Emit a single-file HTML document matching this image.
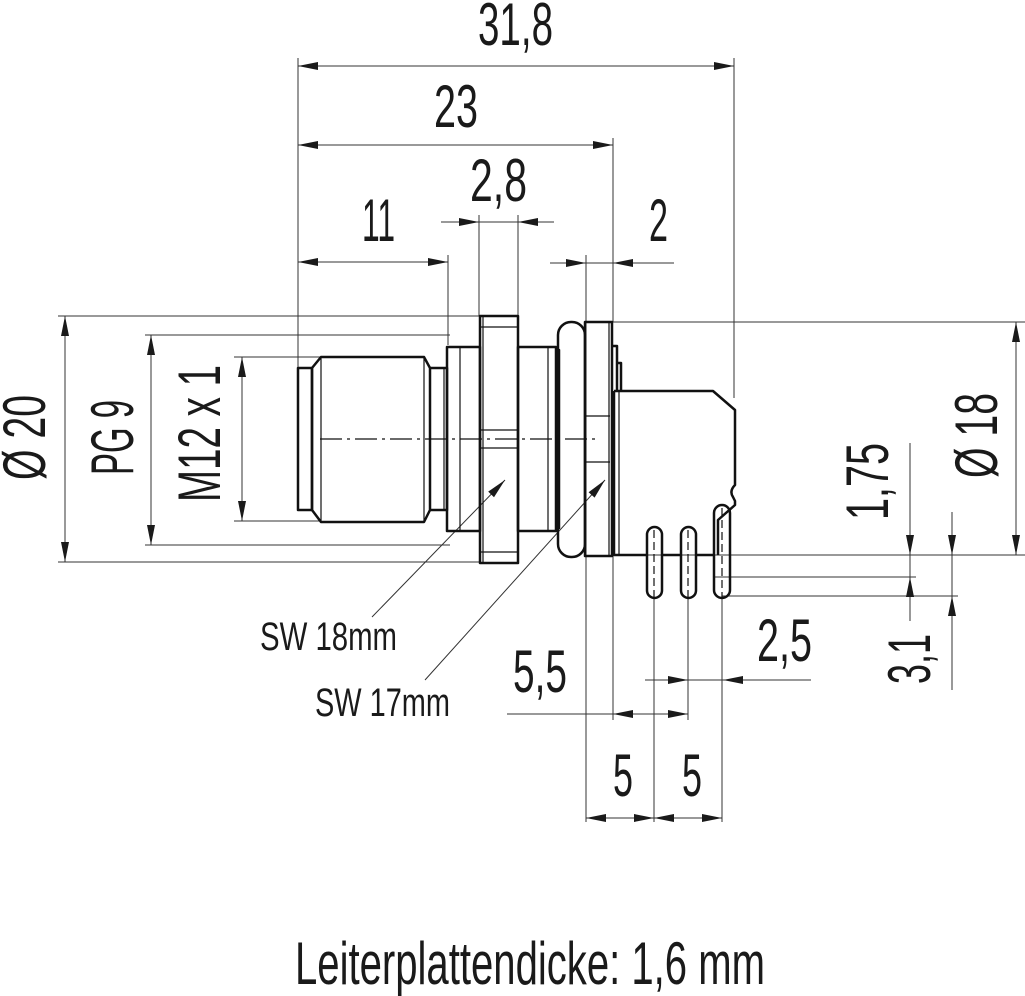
<!DOCTYPE html>
<html><head><meta charset="utf-8"><style>html,body{margin:0;padding:0;background:#fff}svg{display:block}</style></head>
<body>
<svg width="1025" height="996" viewBox="0 0 1025 996" xmlns="http://www.w3.org/2000/svg" font-family="Liberation Sans, sans-serif" fill="#1a1a1a">
<g stroke="#333" stroke-width="1" fill="none">
<!-- extension lines -->
<path d="M298,58V370 M734,58V398 M613,138V322 M448,255V345 M479,215V316 M518,215V316 M586,255V822
M58,316H480 M58,562H480 M145,335H450 M145,545H450 M234,357H320 M234,521H320
M612,322H1025 M612,555H1025 M715,577H916 M722,596H958
M654,598V822 M688,598V720 M722,598V822 M613,555V720"/>
<!-- dimension lines -->
<path d="M298,66H734 M298,145H613 M298,262H448 M441,222H554 M550,263H674 M507,714H688 M586,818H722 M645,680H811
M65,316V562 M151,335V545 M242,357V521 M1016,322V555 M910,443V621 M952,512V690"/>
<!-- leaders -->
<path d="M372,617L505,480 M425,680L605,480"/>
</g>
<g fill="#1a1a1a" stroke="none">
<polygon points="298,66 318,62 318,70"/><polygon points="734,66 714,62 714,70"/>
<polygon points="298,145 318,141 318,149"/><polygon points="613,145 593,141 593,149"/>
<polygon points="298,262 318,258 318,266"/><polygon points="448,262 428,258 428,266"/>
<polygon points="479,222 459,218 459,226"/><polygon points="518,222 538,218 538,226"/>
<polygon points="586,263 566,259 566,267"/><polygon points="613,263 633,259 633,267"/>
<polygon points="65,316 61,336 69,336"/><polygon points="65,562 61,542 69,542"/>
<polygon points="151,335 147,355 155,355"/><polygon points="151,545 147,525 155,525"/>
<polygon points="242,357 238,377 246,377"/><polygon points="242,521 238,501 246,501"/>
<polygon points="1016,322 1012,342 1020,342"/><polygon points="1016,555 1012,535 1020,535"/>
<polygon points="910,555 906,535 914,535"/><polygon points="910,577 906,597 914,597"/>
<polygon points="952,555 948,535 956,535"/><polygon points="952,596 948,616 956,616"/>
<polygon points="688,680 668,676 668,684"/><polygon points="723,680 743,676 743,684"/>
<polygon points="613,714 633,710 633,718"/><polygon points="688,714 668,710 668,718"/>
<polygon points="586,818 606,814 606,822"/><polygon points="654,818 634,814 634,822"/>
<polygon points="654,818 674,814 674,822"/><polygon points="722,818 702,814 702,822"/>
<polygon points="505,480 494,497.2 488.2,491.6"/><polygon points="605,480 594.6,497.6 588.6,492.2"/>
</g>
<!-- body -->
<g stroke="#111" stroke-width="2.5" fill="none" stroke-linejoin="round">
<rect x="298" y="368" width="14" height="142"/>
<path d="M312,368L321,357H424L430,368V510L424,522H321L312,510Z"/>
<path d="M430,368H447V510H430"/>
<rect x="447" y="347" width="33" height="184"/>
<rect x="480" y="316" width="38" height="247"/>
<rect x="518" y="347" width="38" height="184"/>
<path d="M556,350H559V528H556"/>
<rect x="558" y="322" width="27" height="235" rx="13"/>
<rect x="585" y="322" width="27" height="234"/>
<path d="M612,346H617V392 M617,363H621V392"/>
<path d="M614,391H713L735,410V485Q729,491 733,497L735,501V505L718,520V555 M614,391V555H646"/>
<rect x="647" y="527" width="15" height="71" rx="7.5"/>
<rect x="681" y="527" width="15" height="71" rx="7.5"/>
<rect x="714" y="505" width="16" height="93" rx="8"/>
<path d="M662,555H681 M696,555H714"/>
</g>
<g stroke="#111" stroke-width="1.2" fill="none">
<path d="M321,357V522 M424,357V522 M444,368V510 M460,347V531 M483,316V563 M548,347V531 M480,327H518 M480,430H518 M480,448H518 M480,552H518 M585,416H610 M585,462H610 M609,322V556 M619,391V555"/>
<path d="M320,439H595" stroke-dasharray="22,5,3,5"/>
<path d="M654,530V598 M688,530V598 M722,508V598" stroke-dasharray="8,4"/>
</g>
<!-- texts -->
<g font-size="60" lengthAdjust="spacingAndGlyphs">
<text x="478" y="45" textLength="75" lengthAdjust="spacingAndGlyphs">31,8</text>
<text x="434" y="127" textLength="44" lengthAdjust="spacingAndGlyphs">23</text>
<text x="362" y="241" textLength="33" lengthAdjust="spacingAndGlyphs">11</text>
<text x="470" y="201" textLength="57" lengthAdjust="spacingAndGlyphs">2,8</text>
<text x="649" y="241" textLength="19" lengthAdjust="spacingAndGlyphs">2</text>
<text x="757" y="661" textLength="55" lengthAdjust="spacingAndGlyphs">2,5</text>
<text x="513" y="692" textLength="54" lengthAdjust="spacingAndGlyphs">5,5</text>
<text x="613" y="796" textLength="20" lengthAdjust="spacingAndGlyphs">5</text>
<text x="682" y="796" textLength="20" lengthAdjust="spacingAndGlyphs">5</text>
<text transform="translate(888,520) rotate(-90)" textLength="77" lengthAdjust="spacingAndGlyphs">1,75</text>
<text transform="translate(930,684) rotate(-90)" textLength="50" lengthAdjust="spacingAndGlyphs">3,1</text>
<text transform="translate(997,478) rotate(-90)" textLength="85" lengthAdjust="spacingAndGlyphs">Ø 18</text>
<text transform="translate(45,480) rotate(-90)" textLength="85" lengthAdjust="spacingAndGlyphs">Ø 20</text>
<text transform="translate(133,475) rotate(-90)" textLength="75" lengthAdjust="spacingAndGlyphs">PG 9</text>
<text transform="translate(220,502) rotate(-90)" textLength="137" lengthAdjust="spacingAndGlyphs">M12 x 1</text>
<text x="295" y="984" textLength="470" lengthAdjust="spacingAndGlyphs">Leiterplattendicke: 1,6 mm</text>
</g>
<g font-size="40">
<text x="260" y="650" textLength="137" lengthAdjust="spacingAndGlyphs">SW 18mm</text>
<text x="315" y="716" textLength="135" lengthAdjust="spacingAndGlyphs">SW 17mm</text>
</g>
</svg>
</body></html>
